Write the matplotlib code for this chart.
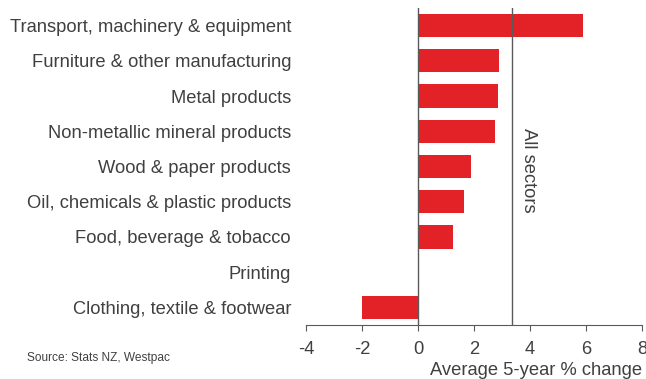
import matplotlib
matplotlib.use("Agg")
import matplotlib.pyplot as plt

plt.rcParams['font.family'] = ['Liberation Sans', 'DejaVu Sans']

categories = [
    "Transport, machinery & equipment",
    "Furniture & other manufacturing",
    "Metal products",
    "Non-metallic mineral products",
    "Wood & paper products",
    "Oil, chemicals & plastic products",
    "Food, beverage & tobacco",
    "Printing",
    "Clothing, textile & footwear",
]
values = [5.89, 2.89, 2.85, 2.75, 1.89, 1.64, 1.25, 0.02, -2.0]
all_sectors = 3.35
xticks = [-4, -2, 0, 2, 4, 6, 8]

text_color = "#404040"
fs = 13.2
fig = plt.figure(figsize=(6.46, 3.79), dpi=100)
ax = fig.add_axes([0.4737, 0.1425, 0.9938 - 0.4737, 0.979 - 0.1425])

y = list(range(len(categories)))
ax.barh(y, values, height=0.66, color="#E32227", zorder=2)
ax.axvline(0, color="#5a5a5a", lw=1, zorder=3)
ax.axvline(all_sectors, color="#5a5a5a", lw=1, zorder=3)
ax.text(all_sectors + 0.6, 4.1, "All sectors", rotation=270, ha="center", va="center",
        fontsize=fs, color=text_color)

ax.set_ylim(len(categories) - 0.5, -0.5)
ax.set_xlim(-4, 8)
ax.set_xticks(xticks)
ax.set_xticklabels([str(t) for t in xticks], fontsize=fs, color=text_color)
ax.set_yticks(y)
ax.set_yticklabels(categories, fontsize=fs, color=text_color)
ax.tick_params(axis='y', length=0, pad=10.8)
ax.tick_params(axis='x', direction='out', length=4, color="#5a5a5a", pad=7.5)
for s in ["top", "right", "left"]:
    ax.spines[s].set_visible(False)
ax.spines["bottom"].set_color("#5a5a5a")

fig.text(0.9938, 0.0, "Average 5-year % change", ha="right", va="bottom",
         fontsize=fs, color=text_color)
fig.text(27 / 646, 1 - 358 / 379, "Source: Stats NZ, Westpac", ha="left", va="center",
         fontsize=8.6, color=text_color)

fig.savefig("out.png", dpi=100)
